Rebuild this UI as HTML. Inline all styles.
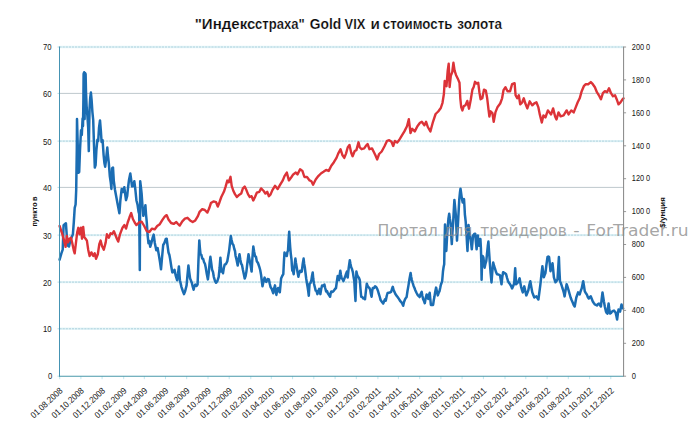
<!DOCTYPE html>
<html lang="ru"><head><meta charset="utf-8"><title>"Индекс страха" Gold VIX и стоимость золота</title>
<style>
html,body{margin:0;padding:0;background:#fff;}
body{width:694px;height:439px;overflow:hidden;}
svg{display:block;}
text{font-family:"Liberation Sans","DejaVu Sans",sans-serif;}
.t{font-size:9px;fill:#161616;}
.ttl{font-size:15.3px;font-weight:bold;fill:#0a0a0a;stroke:#fff;stroke-width:.2px;}
.ax{font-size:8px;font-weight:bold;fill:#111;}
.wm{font-family:"DejaVu Sans","Liberation Sans",sans-serif;font-size:15px;fill:#8e8e8e;fill-opacity:.8;}
</style></head><body>
<svg width="694" height="439" viewBox="0 0 694 439">
<rect width="694" height="439" fill="#fff"/>

<line x1="59.5" y1="328.8" x2="623.6" y2="328.8" stroke="#e8f7fa" stroke-width="2.4"/>
<line x1="59.5" y1="328.8" x2="623.6" y2="328.8" stroke="#abd0dc" stroke-width="1" stroke-dasharray="2.2 0.9"/>
<line x1="59.5" y1="282.1" x2="623.6" y2="282.1" stroke="#e8f7fa" stroke-width="2.4"/>
<line x1="59.5" y1="282.1" x2="623.6" y2="282.1" stroke="#abd0dc" stroke-width="1" stroke-dasharray="2.2 0.9"/>
<line x1="59.5" y1="235.1" x2="623.6" y2="235.1" stroke="#e8f7fa" stroke-width="2.4"/>
<line x1="59.5" y1="235.1" x2="623.6" y2="235.1" stroke="#abd0dc" stroke-width="1" stroke-dasharray="2.2 0.9"/>
<line x1="59.5" y1="187.4" x2="623.6" y2="187.4" stroke="#bfc9cd" stroke-width="1"/>
<line x1="59.5" y1="141.1" x2="623.6" y2="141.1" stroke="#e8f7fa" stroke-width="2.4"/>
<line x1="59.5" y1="141.1" x2="623.6" y2="141.1" stroke="#abd0dc" stroke-width="1" stroke-dasharray="2.2 0.9"/>
<line x1="59.5" y1="93.4" x2="623.6" y2="93.4" stroke="#bfc9cd" stroke-width="1"/>
<line x1="59.5" y1="47.0" x2="623.6" y2="47.0" stroke="#e8f7fa" stroke-width="2.4"/>
<line x1="59.5" y1="47.0" x2="623.6" y2="47.0" stroke="#abd0dc" stroke-width="1" stroke-dasharray="2.2 0.9"/>
<line x1="59.7" y1="376.2" x2="59.7" y2="379.2" stroke="#bfe6ee" stroke-width="1"/>
<line x1="80.9" y1="376.2" x2="80.9" y2="379.2" stroke="#bfe6ee" stroke-width="1"/>
<line x1="102.1" y1="376.2" x2="102.1" y2="379.2" stroke="#bfe6ee" stroke-width="1"/>
<line x1="123.7" y1="376.2" x2="123.7" y2="379.2" stroke="#bfe6ee" stroke-width="1"/>
<line x1="144.3" y1="376.2" x2="144.3" y2="379.2" stroke="#bfe6ee" stroke-width="1"/>
<line x1="165.5" y1="376.2" x2="165.5" y2="379.2" stroke="#bfe6ee" stroke-width="1"/>
<line x1="186.7" y1="376.2" x2="186.7" y2="379.2" stroke="#bfe6ee" stroke-width="1"/>
<line x1="208.0" y1="376.2" x2="208.0" y2="379.2" stroke="#bfe6ee" stroke-width="1"/>
<line x1="229.2" y1="376.2" x2="229.2" y2="379.2" stroke="#bfe6ee" stroke-width="1"/>
<line x1="250.8" y1="376.2" x2="250.8" y2="379.2" stroke="#bfe6ee" stroke-width="1"/>
<line x1="271.3" y1="376.2" x2="271.3" y2="379.2" stroke="#bfe6ee" stroke-width="1"/>
<line x1="292.6" y1="376.2" x2="292.6" y2="379.2" stroke="#bfe6ee" stroke-width="1"/>
<line x1="313.8" y1="376.2" x2="313.8" y2="379.2" stroke="#bfe6ee" stroke-width="1"/>
<line x1="335.1" y1="376.2" x2="335.1" y2="379.2" stroke="#bfe6ee" stroke-width="1"/>
<line x1="356.3" y1="376.2" x2="356.3" y2="379.2" stroke="#bfe6ee" stroke-width="1"/>
<line x1="377.9" y1="376.2" x2="377.9" y2="379.2" stroke="#bfe6ee" stroke-width="1"/>
<line x1="398.4" y1="376.2" x2="398.4" y2="379.2" stroke="#bfe6ee" stroke-width="1"/>
<line x1="419.7" y1="376.2" x2="419.7" y2="379.2" stroke="#bfe6ee" stroke-width="1"/>
<line x1="440.9" y1="376.2" x2="440.9" y2="379.2" stroke="#bfe6ee" stroke-width="1"/>
<line x1="462.1" y1="376.2" x2="462.1" y2="379.2" stroke="#bfe6ee" stroke-width="1"/>
<line x1="483.4" y1="376.2" x2="483.4" y2="379.2" stroke="#bfe6ee" stroke-width="1"/>
<line x1="505.0" y1="376.2" x2="505.0" y2="379.2" stroke="#bfe6ee" stroke-width="1"/>
<line x1="525.8" y1="376.2" x2="525.8" y2="379.2" stroke="#bfe6ee" stroke-width="1"/>
<line x1="547.1" y1="376.2" x2="547.1" y2="379.2" stroke="#bfe6ee" stroke-width="1"/>
<line x1="568.3" y1="376.2" x2="568.3" y2="379.2" stroke="#bfe6ee" stroke-width="1"/>
<line x1="589.6" y1="376.2" x2="589.6" y2="379.2" stroke="#bfe6ee" stroke-width="1"/>
<line x1="610.8" y1="376.2" x2="610.8" y2="379.2" stroke="#bfe6ee" stroke-width="1"/>
<line x1="57.5" y1="376.2" x2="59.5" y2="376.2" stroke="#b4dbe6" stroke-width="1"/>
<line x1="57.5" y1="328.8" x2="59.5" y2="328.8" stroke="#b4dbe6" stroke-width="1"/>
<line x1="57.5" y1="282.1" x2="59.5" y2="282.1" stroke="#b4dbe6" stroke-width="1"/>
<line x1="57.5" y1="235.1" x2="59.5" y2="235.1" stroke="#b4dbe6" stroke-width="1"/>
<line x1="57.5" y1="187.4" x2="59.5" y2="187.4" stroke="#b4dbe6" stroke-width="1"/>
<line x1="57.5" y1="141.1" x2="59.5" y2="141.1" stroke="#b4dbe6" stroke-width="1"/>
<line x1="57.5" y1="93.4" x2="59.5" y2="93.4" stroke="#b4dbe6" stroke-width="1"/>
<line x1="57.5" y1="47.0" x2="59.5" y2="47.0" stroke="#b4dbe6" stroke-width="1"/>
<line x1="623.6" y1="376.2" x2="626.1" y2="376.2" stroke="#9a9a9a" stroke-width="1"/>
<line x1="623.6" y1="343.3" x2="626.1" y2="343.3" stroke="#9a9a9a" stroke-width="1"/>
<line x1="623.6" y1="310.4" x2="626.1" y2="310.4" stroke="#9a9a9a" stroke-width="1"/>
<line x1="623.6" y1="277.4" x2="626.1" y2="277.4" stroke="#9a9a9a" stroke-width="1"/>
<line x1="623.6" y1="244.5" x2="626.1" y2="244.5" stroke="#9a9a9a" stroke-width="1"/>
<line x1="623.6" y1="211.6" x2="626.1" y2="211.6" stroke="#9a9a9a" stroke-width="1"/>
<line x1="623.6" y1="178.7" x2="626.1" y2="178.7" stroke="#9a9a9a" stroke-width="1"/>
<line x1="623.6" y1="145.8" x2="626.1" y2="145.8" stroke="#9a9a9a" stroke-width="1"/>
<line x1="623.6" y1="112.8" x2="626.1" y2="112.8" stroke="#9a9a9a" stroke-width="1"/>
<line x1="623.6" y1="79.9" x2="626.1" y2="79.9" stroke="#9a9a9a" stroke-width="1"/>
<line x1="623.6" y1="47.0" x2="626.1" y2="47.0" stroke="#9a9a9a" stroke-width="1"/>
<polyline fill="none" stroke="#1b6db3" stroke-width="2.5" stroke-linejoin="round" stroke-linecap="round" points="59.6,259.7 61.4,253.3 62.7,249.7 63.6,225.1 65.9,223.2 66.8,236.0 67.6,245.5 69.0,246.5 70.5,240.0 72.9,234.2 73.8,222.3 74.7,207.8 75.6,204.5 76.2,190.0 76.8,150.0 77.0,119.0 77.6,140.0 78.4,172.7 79.2,172.0 80.0,150.0 81.0,130.3 81.8,135.0 82.6,118.5 83.0,126.0 83.4,100.0 83.6,74.0 84.2,72.2 84.6,119.0 85.1,73.0 85.6,74.0 86.0,92.0 86.6,106.0 87.4,116.0 88.2,128.0 88.8,151.1 89.2,125.0 89.6,108.0 90.2,98.0 90.9,92.6 91.6,100.0 92.4,112.0 93.2,120.0 94.0,145.0 94.8,167.5 95.6,165.0 96.4,150.0 97.4,139.8 98.2,141.0 99.0,128.0 100.0,120.4 100.8,130.0 101.6,142.0 102.6,140.0 103.6,155.0 104.4,163.0 105.2,166.7 106.0,160.0 107.3,147.6 107.9,155.0 108.8,163.0 109.8,176.0 110.8,182.9 111.4,189.0 112.1,168.2 113.0,167.5 113.8,181.0 115.0,190.0 116.5,198.0 117.8,205.0 119.4,213.2 120.4,200.0 121.7,189.0 123.0,192.0 124.3,187.2 125.2,194.0 126.0,200.2 127.2,196.0 128.0,188.0 129.0,180.0 130.3,173.4 131.2,180.0 132.0,186.4 133.2,186.0 134.3,181.2 135.4,190.0 136.4,200.2 137.6,205.0 138.6,212.0 139.2,214.0 139.8,270.1 140.2,181.2 141.0,188.0 141.6,193.3 142.4,205.0 143.3,215.8 144.4,212.0 145.4,205.2 146.0,214.0 146.8,222.5 147.6,235.0 148.5,243.3 149.4,241.0 150.2,246.8 151.4,243.0 152.6,238.0 153.7,234.6 154.8,243.0 156.3,250.2 157.6,248.0 158.9,255.4 160.0,262.0 161.0,269.3 162.0,258.0 163.2,245.0 164.4,243.0 165.8,239.0 166.7,238.7 167.6,246.0 168.5,252.5 169.4,255.0 170.2,259.4 171.2,266.0 172.3,272.4 173.4,272.0 174.5,269.8 175.8,276.0 177.1,280.2 178.0,274.0 178.9,266.4 179.4,274.0 179.9,280.2 181.5,287.1 182.8,291.0 184.0,294.1 185.2,291.0 186.6,285.4 187.4,276.0 188.4,265.5 189.2,272.0 190.1,278.5 191.8,282.8 192.8,287.0 193.6,289.7 194.5,286.0 195.3,284.5 196.5,286.0 197.6,284.5 198.4,262.0 199.3,240.4 199.9,248.0 200.5,254.2 201.4,255.0 202.2,258.6 203.2,259.0 204.0,262.0 205.0,264.0 205.7,267.2 206.8,274.0 207.9,279.4 208.8,272.0 209.6,263.0 210.4,256.8 211.2,263.0 212.1,269.8 213.0,272.0 213.8,276.8 215.0,281.0 216.1,282.8 217.4,281.0 218.7,276.8 219.6,268.0 220.4,257.7 220.9,265.0 221.3,271.6 222.2,270.0 223.0,273.3 223.8,268.0 224.7,264.6 226.0,264.0 227.3,261.2 228.2,256.0 229.1,250.8 230.0,243.0 230.8,236.1 231.6,240.0 232.5,243.9 233.4,245.0 234.3,249.0 235.0,251.0 235.6,256.0 236.6,260.0 237.7,265.5 238.6,259.0 239.5,254.2 240.4,260.0 241.2,263.8 242.0,265.0 242.9,269.8 243.8,274.0 244.7,278.5 245.6,276.0 246.4,271.6 247.5,262.0 248.5,254.2 249.2,258.0 249.8,261.2 250.7,266.0 251.6,271.6 252.4,258.0 253.3,246.5 254.2,252.0 255.0,256.0 256.0,257.0 256.8,261.2 258.0,263.0 259.4,267.2 260.2,270.0 261.1,275.0 261.8,281.0 262.5,286.3 263.6,281.0 264.6,277.6 265.4,281.0 266.3,281.9 267.6,279.0 268.9,279.4 269.8,284.0 270.6,287.1 271.8,289.0 273.2,293.2 274.2,288.0 275.0,285.4 275.7,291.0 276.4,294.9 277.2,290.0 278.1,288.0 279.0,291.0 279.8,292.3 280.5,285.0 281.1,278.5 282.2,276.0 283.3,274.2 283.9,262.0 284.5,252.5 285.6,255.0 286.8,256.0 287.4,252.0 288.0,250.8 288.6,240.0 289.2,231.7 289.7,240.0 290.2,247.3 290.8,254.0 291.5,259.4 291.9,266.0 292.3,270.7 293.0,271.0 293.7,274.2 294.5,266.0 295.4,258.6 296.0,263.0 296.6,266.4 297.5,272.0 298.4,276.8 299.2,273.0 300.1,270.7 301.0,272.0 301.8,271.6 302.7,264.0 303.6,258.6 304.2,264.0 304.8,267.2 305.5,273.0 306.2,278.5 306.9,283.0 307.6,287.1 308.2,291.0 308.8,295.8 309.2,289.0 309.6,283.7 310.5,283.0 311.4,280.2 312.0,276.0 312.7,272.4 313.3,279.0 314.0,283.7 314.8,287.0 315.7,290.6 316.5,291.0 317.4,294.1 318.3,291.0 319.2,288.9 319.8,292.0 320.4,294.1 321.2,289.0 322.1,285.4 323.2,286.0 324.4,284.5 325.2,288.0 326.1,291.5 327.0,291.0 327.8,293.2 329.0,295.0 330.1,296.7 330.7,293.0 331.3,291.5 332.6,292.0 333.9,290.6 335.0,289.0 336.0,288.0 336.8,282.0 337.7,275.9 338.4,279.0 339.1,280.2 339.7,275.0 340.3,270.7 341.0,275.0 341.7,278.5 342.5,279.0 343.4,281.1 344.2,279.0 345.1,276.8 346.0,274.0 346.9,271.6 347.3,275.0 347.7,277.6 348.7,268.0 349.8,260.3 350.5,264.0 351.2,267.2 352.0,269.0 352.9,272.4 353.6,277.0 354.3,281.1 354.9,292.0 355.5,301.0 355.9,285.0 356.4,271.6 357.2,275.0 358.1,276.8 359.0,278.0 359.8,280.2 360.5,289.0 361.2,296.7 362.2,297.0 363.3,298.4 364.2,298.0 365.0,299.3 365.9,291.0 366.8,283.7 367.6,286.0 368.5,287.1 369.4,288.0 370.2,289.7 370.9,294.0 371.6,296.7 372.2,291.0 372.8,288.0 374.0,288.0 375.1,286.3 376.2,287.0 377.2,288.9 378.0,291.0 378.9,294.1 379.8,297.0 380.6,300.1 382.0,302.0 383.2,303.6 384.2,301.0 385.0,299.3 385.8,300.6 386.7,296.0 387.6,293.0 388.5,292.8 389.8,292.5 391.1,291.9 392.0,289.0 392.8,286.8 393.6,290.0 394.5,291.9 395.4,294.0 396.3,295.4 397.6,297.0 398.9,298.9 400.2,301.0 401.5,302.3 402.4,304.0 403.2,305.8 404.0,302.0 404.9,299.7 405.8,298.0 406.6,297.1 407.5,291.0 408.4,285.9 409.5,279.0 410.6,272.9 411.2,277.0 411.8,279.8 412.7,283.0 413.6,285.9 414.5,288.0 415.3,290.2 416.6,293.0 417.9,295.4 418.8,296.0 419.6,297.1 420.6,294.0 421.7,291.9 422.4,296.0 423.1,298.9 424.0,301.0 424.8,303.2 425.7,298.0 426.6,294.5 427.4,297.0 428.3,298.9 429.0,295.0 429.7,292.8 430.3,299.0 430.9,304.9 432.0,305.0 433.1,304.9 433.8,300.0 434.4,297.1 435.2,292.0 436.1,287.6 437.0,292.0 437.8,295.4 438.6,293.0 439.5,291.1 440.2,288.0 440.8,285.0 441.5,283.0 442.1,281.6 442.6,276.0 443.0,271.2 443.6,267.0 444.2,264.2 444.6,242.0 445.0,224.5 445.6,238.0 446.3,251.0 447.0,238.0 447.8,226.0 448.4,219.0 449.2,213.7 449.9,219.0 450.6,223.3 451.2,235.0 451.8,244.1 452.4,233.0 453.1,223.3 453.8,210.0 454.4,199.9 455.1,207.0 455.8,214.6 456.4,228.0 457.0,240.6 457.6,230.0 458.2,219.8 458.8,208.0 459.3,199.0 459.9,193.0 460.5,188.7 461.1,193.0 461.7,197.3 462.2,200.0 462.7,202.5 463.4,200.0 464.0,199.0 464.5,207.0 464.9,214.6 465.3,218.0 465.7,221.6 466.2,230.0 466.7,237.1 467.1,245.0 467.5,251.0 468.0,237.0 468.5,225.0 469.1,230.0 470.0,235.4 471.1,243.0 471.8,249.3 472.5,242.0 473.1,235.4 474.2,234.0 475.2,233.7 475.9,242.0 476.6,249.3 477.2,242.0 477.8,235.4 478.4,241.0 479.0,245.8 479.7,242.0 480.4,238.9 480.9,248.0 481.3,262.0 481.6,279.8 482.0,265.0 482.6,256.0 483.4,257.3 484.0,263.0 484.6,267.7 485.4,264.0 486.3,260.8 487.0,254.0 487.8,246.0 488.4,241.6 489.1,252.0 489.8,262.5 490.6,273.0 491.5,282.4 492.3,272.0 493.2,262.5 494.1,266.0 495.0,268.6 496.0,272.0 497.0,274.3 498.5,274.5 500.0,275.3 500.8,280.0 501.5,284.3 502.3,277.0 503.1,272.2 504.6,273.0 506.1,274.3 507.1,278.0 508.1,281.3 509.1,283.0 510.1,284.3 511.1,286.0 512.1,288.4 513.2,286.0 514.2,283.3 514.7,275.0 515.2,268.2 515.7,277.0 516.2,284.3 517.2,283.0 518.2,282.3 518.9,280.0 519.6,278.3 520.4,283.0 521.2,287.4 522.0,290.0 522.8,292.4 523.6,289.0 524.3,286.4 525.3,291.0 526.3,295.4 527.3,293.0 528.3,290.4 529.3,285.0 530.3,281.3 531.3,287.0 532.3,292.4 533.3,295.0 534.3,297.5 535.3,297.0 536.4,296.4 537.4,298.0 538.4,299.5 539.4,292.0 540.4,284.3 541.4,275.0 542.4,266.2 543.1,272.0 543.8,277.3 544.6,275.0 545.4,273.2 546.4,265.0 547.5,257.1 548.3,256.5 549.1,257.1 549.8,264.0 550.5,271.2 551.5,267.0 552.5,263.2 553.2,270.0 553.9,277.3 554.7,280.0 555.5,282.3 556.5,281.0 557.5,279.3 558.2,268.0 558.9,257.1 559.4,270.0 560.0,281.3 560.8,283.0 561.6,285.3 562.4,288.0 563.2,290.4 563.9,293.0 564.6,296.4 565.6,290.0 566.6,284.3 567.6,287.0 568.6,290.4 569.6,294.0 570.6,297.5 571.6,300.0 572.7,302.5 573.7,305.0 574.7,306.5 575.5,302.0 576.3,297.5 577.2,295.0 578.1,292.4 578.9,294.0 579.7,294.4 580.7,291.0 581.7,288.4 582.4,285.0 583.2,281.3 584.0,286.0 584.8,291.4 585.8,293.0 586.8,294.4 587.8,297.0 588.8,298.5 589.8,297.0 590.8,296.4 591.8,299.0 592.8,301.5 593.8,303.0 594.9,304.5 595.9,305.0 596.9,305.5 597.9,304.0 598.9,303.5 599.9,305.0 600.9,306.5 601.7,299.0 602.5,292.4 603.2,297.0 603.9,301.5 604.9,307.0 606.0,311.6 606.7,313.0 607.4,313.6 608.0,308.0 608.6,303.5 609.3,309.0 610.0,313.6 611.0,313.0 612.0,311.6 613.0,311.0 614.0,310.6 614.8,311.5 615.6,312.6 616.4,316.0 617.1,319.6 617.8,314.0 618.5,309.6 619.3,311.0 620.1,311.6 620.8,308.0 621.5,304.5 622.3,307.0 623.1,308.5"/>
<polyline fill="none" stroke="#dc3338" stroke-width="2.4" stroke-linejoin="round" stroke-linecap="round" points="59.6,226.0 62.3,234.2 64.1,240.6 65.6,246.9 66.8,236.0 68.1,242.4 69.6,238.7 71.0,237.8 72.3,243.3 73.8,250.6 74.7,253.3 76.0,242.4 77.2,232.4 78.3,227.8 79.6,234.2 80.9,227.8 82.0,238.7 83.2,226.9 84.2,236.9 85.6,238.7 86.9,240.6 88.2,249.7 89.6,256.0 91.4,252.4 93.3,256.0 94.7,253.3 96.0,258.8 97.8,254.2 99.3,244.2 100.6,240.6 102.0,246.0 103.8,249.7 105.7,242.4 106.9,234.2 108.8,237.8 110.6,233.3 112.2,234.0 113.9,231.2 115.6,235.5 117.0,239.0 118.2,241.6 119.9,234.6 122.5,227.7 124.3,225.1 126.0,228.6 127.7,222.5 129.5,217.3 131.2,213.0 132.9,219.0 134.7,222.5 136.4,225.1 139.0,222.5 141.6,221.6 144.2,226.0 146.8,231.2 149.4,232.0 152.0,228.6 154.6,229.4 157.2,226.0 159.8,224.2 162.4,219.9 164.5,216.8 165.8,215.6 166.7,215.2 168.5,219.5 171.1,223.0 173.7,223.9 176.3,222.1 178.0,224.0 179.7,225.6 182.3,221.3 184.9,218.7 187.5,217.8 190.1,220.4 192.7,222.1 195.3,220.4 197.9,216.1 199.6,211.8 202.2,209.2 204.8,210.0 207.4,212.6 209.2,208.3 210.9,203.1 213.5,201.4 216.1,202.2 217.8,206.6 219.5,202.2 221.3,197.0 223.9,191.8 225.6,186.6 227.3,180.6 228.7,182.3 230.5,176.8 231.7,185.8 233.4,191.0 235.1,194.4 236.9,197.0 238.6,195.3 241.2,193.6 242.9,188.4 244.7,186.6 246.4,190.1 248.1,194.4 249.8,197.0 251.6,196.2 253.3,200.5 255.0,197.0 256.8,192.7 259.4,191.8 261.1,188.4 263.7,191.0 265.4,193.6 267.2,191.8 268.9,196.2 270.6,194.4 272.4,190.1 275.0,185.8 277.6,189.1 280.2,184.7 282.8,180.4 284.5,176.1 286.8,172.6 288.9,180.4 291.5,177.0 293.2,174.4 295.8,172.6 297.5,174.4 300.1,169.2 302.4,170.9 304.4,177.0 307.0,177.0 309.6,180.4 311.4,181.3 313.1,184.7 315.7,179.5 318.3,176.1 320.9,173.5 323.5,171.8 326.1,170.0 328.7,170.9 331.3,165.7 333.9,162.2 336.5,157.9 338.2,153.6 340.5,149.2 342.5,155.3 344.3,157.9 346.0,153.6 347.7,147.5 349.5,144.9 351.2,152.7 352.6,156.2 354.7,151.0 356.4,150.1 358.5,142.3 359.8,147.5 361.6,149.2 364.2,148.4 365.9,145.8 367.6,144.0 369.4,149.2 372.0,148.4 373.7,151.8 375.4,155.3 377.2,159.4 379.1,154.0 381.7,151.5 384.5,146.3 387.1,140.8 389.2,140.2 391.5,141.8 393.2,146.0 394.9,141.0 397.2,142.6 399.2,140.0 401.8,135.7 404.4,131.4 407.0,126.2 408.8,119.2 410.5,133.1 412.2,128.8 414.8,131.4 417.4,126.2 420.0,122.7 421.8,121.8 424.4,125.3 426.1,121.8 427.8,127.0 430.4,131.4 433.0,121.8 435.6,114.0 438.2,111.5 440.8,108.0 442.5,102.8 443.9,94.0 444.7,81.0 446.5,86.2 447.7,70.6 448.7,63.7 449.6,87.0 450.8,75.8 452.2,72.3 453.4,62.8 454.6,70.6 456.0,74.9 457.7,78.4 459.5,82.7 460.3,98.3 461.2,107.0 462.4,110.4 463.8,106.1 465.5,105.2 467.3,100.9 469.0,108.7 470.7,100.0 472.4,89.6 473.7,87.0 475.0,81.8 476.8,83.6 478.2,82.7 479.4,92.2 480.6,99.2 482.3,98.3 484.0,89.6 485.8,90.5 487.2,98.3 488.6,110.4 489.4,116.5 490.6,111.3 492.4,113.0 493.7,121.7 495.5,112.1 497.6,106.9 500.2,103.5 502.1,98.3 503.5,90.2 505.5,87.2 507.5,91.2 510.1,91.2 512.1,84.2 514.6,83.2 515.6,95.3 517.2,98.3 518.8,95.3 520.2,104.3 522.2,102.3 523.8,98.3 525.3,103.3 527.3,108.4 529.7,101.3 532.3,105.3 534.3,103.3 536.4,102.3 538.4,107.4 539.8,114.4 541.8,122.5 543.4,115.4 545.4,117.5 547.9,110.4 549.5,112.4 551.1,114.4 553.1,108.4 555.1,116.4 556.5,119.5 558.5,112.4 560.6,116.4 563.6,115.4 566.6,110.4 568.6,114.4 571.3,110.4 573.7,112.4 575.7,107.4 577.7,102.3 579.7,98.3 581.7,91.2 583.8,86.2 585.8,84.2 588.2,84.2 590.8,82.1 592.8,84.2 594.9,87.2 596.9,92.2 598.9,95.3 600.9,99.3 602.9,93.2 604.9,91.2 607.0,92.2 609.0,88.2 611.0,93.2 613.0,96.3 615.0,95.3 617.1,100.3 618.5,104.3 620.5,102.3 622.5,99.3 623.5,98.3"/>
<line x1="59.5" y1="46.5" x2="59.5" y2="376.7" stroke="#4593b3" stroke-width="1"/>
<line x1="59.0" y1="376.2" x2="623.6" y2="376.2" stroke="#4898aa" stroke-width="1.15"/>
<line x1="623.6" y1="46.5" x2="623.6" y2="376.7" stroke="#858585" stroke-width="1"/>
<text class="ttl" y="28.8"><tspan x="194.7" textLength="60.8" lengthAdjust="spacingAndGlyphs">"Индекс</tspan> <tspan x="255.1" textLength="49.6" lengthAdjust="spacingAndGlyphs">страха"</tspan> <tspan x="309.8" textLength="31.4" lengthAdjust="spacingAndGlyphs">Gold</tspan> <tspan x="344.6" textLength="20.8" lengthAdjust="spacingAndGlyphs">VIX</tspan> <tspan x="370.5" textLength="9.4" lengthAdjust="spacingAndGlyphs">и</tspan> <tspan x="382.8" textLength="69.5" lengthAdjust="spacingAndGlyphs">стоимость</tspan> <tspan x="457.3" textLength="44.7" lengthAdjust="spacingAndGlyphs">золота</tspan></text>
<text class="t" x="52.2" y="378.7" text-anchor="end" textLength="4.3" lengthAdjust="spacingAndGlyphs">0</text>
<text class="t" x="51.6" y="332.2" text-anchor="end" textLength="8.6" lengthAdjust="spacingAndGlyphs">10</text>
<text class="t" x="51.6" y="285.5" text-anchor="end" textLength="8.6" lengthAdjust="spacingAndGlyphs">20</text>
<text class="t" x="51.6" y="238.5" text-anchor="end" textLength="8.6" lengthAdjust="spacingAndGlyphs">30</text>
<text class="t" x="51.6" y="190.8" text-anchor="end" textLength="8.6" lengthAdjust="spacingAndGlyphs">40</text>
<text class="t" x="51.6" y="144.5" text-anchor="end" textLength="8.6" lengthAdjust="spacingAndGlyphs">50</text>
<text class="t" x="51.6" y="96.8" text-anchor="end" textLength="8.6" lengthAdjust="spacingAndGlyphs">60</text>
<text class="t" x="51.6" y="50.4" text-anchor="end" textLength="8.6" lengthAdjust="spacingAndGlyphs">70</text>
<text class="t" x="631.8" y="378.9" textLength="4.2" lengthAdjust="spacingAndGlyphs">0</text>
<text class="t" x="631.8" y="346.0" textLength="12.6" lengthAdjust="spacingAndGlyphs">200</text>
<text class="t" x="631.8" y="313.1" textLength="12.6" lengthAdjust="spacingAndGlyphs">400</text>
<text class="t" x="631.8" y="280.1" textLength="12.6" lengthAdjust="spacingAndGlyphs">600</text>
<text class="t" x="631.8" y="247.2" textLength="12.6" lengthAdjust="spacingAndGlyphs">800</text>
<text class="t" x="631.8" y="214.3" textLength="18.2" lengthAdjust="spacingAndGlyphs">100<tspan dx="2.2">0</tspan></text>
<text class="t" x="631.8" y="181.4" textLength="18.2" lengthAdjust="spacingAndGlyphs">120<tspan dx="2.2">0</tspan></text>
<text class="t" x="631.8" y="148.5" textLength="18.2" lengthAdjust="spacingAndGlyphs">140<tspan dx="2.2">0</tspan></text>
<text class="t" x="631.8" y="115.5" textLength="18.2" lengthAdjust="spacingAndGlyphs">160<tspan dx="2.2">0</tspan></text>
<text class="t" x="631.8" y="82.6" textLength="18.2" lengthAdjust="spacingAndGlyphs">180<tspan dx="2.2">0</tspan></text>
<text class="t" x="631.8" y="49.7" textLength="18.2" lengthAdjust="spacingAndGlyphs">200<tspan dx="2.2">0</tspan></text>
<text class="t" transform="translate(63.3,391.4) rotate(-43)" text-anchor="end" textLength="40.2" lengthAdjust="spacingAndGlyphs">01.08.2008</text>
<text class="t" transform="translate(84.5,391.4) rotate(-43)" text-anchor="end" textLength="40.2" lengthAdjust="spacingAndGlyphs">01.10.2008</text>
<text class="t" transform="translate(105.7,391.4) rotate(-43)" text-anchor="end" textLength="40.2" lengthAdjust="spacingAndGlyphs">01.12.2008</text>
<text class="t" transform="translate(127.3,391.4) rotate(-43)" text-anchor="end" textLength="40.2" lengthAdjust="spacingAndGlyphs">01.02.2009</text>
<text class="t" transform="translate(147.9,391.4) rotate(-43)" text-anchor="end" textLength="40.2" lengthAdjust="spacingAndGlyphs">01.04.2009</text>
<text class="t" transform="translate(169.1,391.4) rotate(-43)" text-anchor="end" textLength="40.2" lengthAdjust="spacingAndGlyphs">01.06.2009</text>
<text class="t" transform="translate(190.3,391.4) rotate(-43)" text-anchor="end" textLength="40.2" lengthAdjust="spacingAndGlyphs">01.08.2009</text>
<text class="t" transform="translate(211.6,391.4) rotate(-43)" text-anchor="end" textLength="40.2" lengthAdjust="spacingAndGlyphs">01.10.2009</text>
<text class="t" transform="translate(232.8,391.4) rotate(-43)" text-anchor="end" textLength="40.2" lengthAdjust="spacingAndGlyphs">01.12.2009</text>
<text class="t" transform="translate(254.4,391.4) rotate(-43)" text-anchor="end" textLength="40.2" lengthAdjust="spacingAndGlyphs">01.02.2010</text>
<text class="t" transform="translate(274.9,391.4) rotate(-43)" text-anchor="end" textLength="40.2" lengthAdjust="spacingAndGlyphs">01.04.2010</text>
<text class="t" transform="translate(296.2,391.4) rotate(-43)" text-anchor="end" textLength="40.2" lengthAdjust="spacingAndGlyphs">01.06.2010</text>
<text class="t" transform="translate(317.4,391.4) rotate(-43)" text-anchor="end" textLength="40.2" lengthAdjust="spacingAndGlyphs">01.08.2010</text>
<text class="t" transform="translate(338.7,391.4) rotate(-43)" text-anchor="end" textLength="40.2" lengthAdjust="spacingAndGlyphs">01.10.2010</text>
<text class="t" transform="translate(359.9,391.4) rotate(-43)" text-anchor="end" textLength="40.2" lengthAdjust="spacingAndGlyphs">01.12.2010</text>
<text class="t" transform="translate(381.5,391.4) rotate(-43)" text-anchor="end" textLength="40.2" lengthAdjust="spacingAndGlyphs">01.02.2011</text>
<text class="t" transform="translate(402.0,391.4) rotate(-43)" text-anchor="end" textLength="40.2" lengthAdjust="spacingAndGlyphs">01.04.2011</text>
<text class="t" transform="translate(423.3,391.4) rotate(-43)" text-anchor="end" textLength="40.2" lengthAdjust="spacingAndGlyphs">01.06.2011</text>
<text class="t" transform="translate(444.5,391.4) rotate(-43)" text-anchor="end" textLength="40.2" lengthAdjust="spacingAndGlyphs">01.08.2011</text>
<text class="t" transform="translate(465.7,391.4) rotate(-43)" text-anchor="end" textLength="40.2" lengthAdjust="spacingAndGlyphs">01.10.2011</text>
<text class="t" transform="translate(487.0,391.4) rotate(-43)" text-anchor="end" textLength="40.2" lengthAdjust="spacingAndGlyphs">01.12.2011</text>
<text class="t" transform="translate(508.6,391.4) rotate(-43)" text-anchor="end" textLength="40.2" lengthAdjust="spacingAndGlyphs">01.02.2012</text>
<text class="t" transform="translate(529.4,391.4) rotate(-43)" text-anchor="end" textLength="40.2" lengthAdjust="spacingAndGlyphs">01.04.2012</text>
<text class="t" transform="translate(550.7,391.4) rotate(-43)" text-anchor="end" textLength="40.2" lengthAdjust="spacingAndGlyphs">01.06.2012</text>
<text class="t" transform="translate(571.9,391.4) rotate(-43)" text-anchor="end" textLength="40.2" lengthAdjust="spacingAndGlyphs">01.08.2012</text>
<text class="t" transform="translate(593.2,391.4) rotate(-43)" text-anchor="end" textLength="40.2" lengthAdjust="spacingAndGlyphs">01.10.2012</text>
<text class="t" transform="translate(614.4,391.4) rotate(-43)" text-anchor="end" textLength="40.2" lengthAdjust="spacingAndGlyphs">01.12.2012</text>
<text class="ax" transform="translate(37.4,211.5) rotate(-90)" text-anchor="middle" textLength="30" lengthAdjust="spacingAndGlyphs">пункто<tspan dx="1.5">в</tspan></text>
<text class="ax" transform="translate(664.9,212.4) rotate(-90)" text-anchor="middle" textLength="30.5" lengthAdjust="spacingAndGlyphs">$/унция</text>
<text class="wm" y="235.7"><tspan x="377.5" textLength="60.2" lengthAdjust="spacingAndGlyphs">Портал</tspan> <tspan x="443.4" textLength="28.7" lengthAdjust="spacingAndGlyphs">для</tspan> <tspan x="480.2" textLength="86.7" lengthAdjust="spacingAndGlyphs">трейдеров</tspan> <tspan x="573.2" textLength="6.4" lengthAdjust="spacingAndGlyphs">-</tspan> <tspan x="586.3" textLength="102.3" lengthAdjust="spacingAndGlyphs">ForTrader.ru</tspan></text>
</svg></body></html>
